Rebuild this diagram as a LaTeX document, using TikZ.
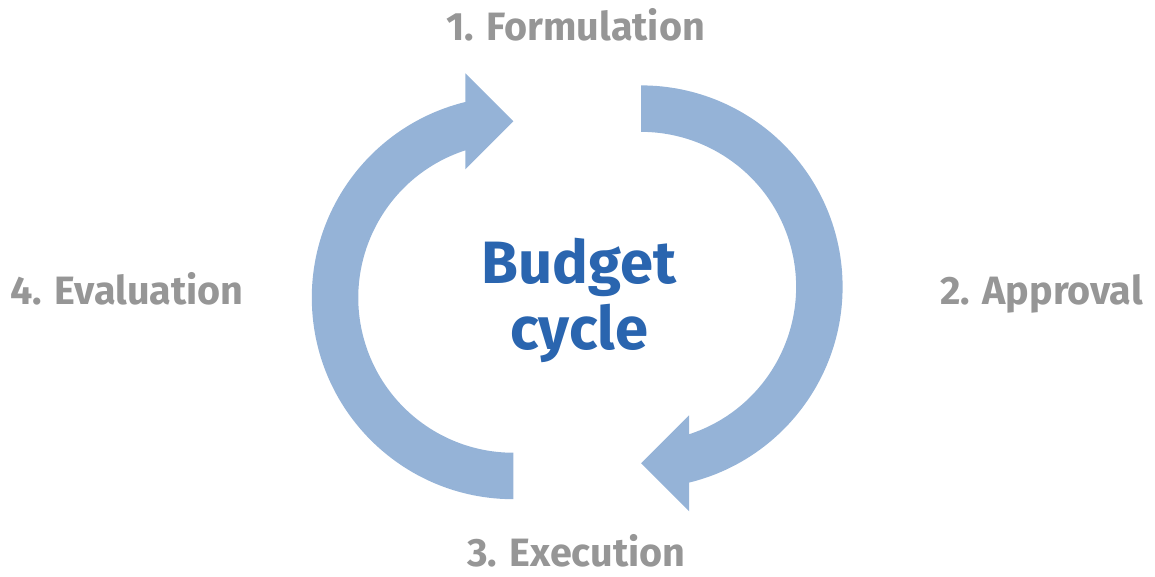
\documentclass[tikz,border=0pt]{standalone}
\usepackage{fontspec}
\setmainfont{Fira Sans}
\definecolor{arrowblue}{RGB}{149,179,215}
\definecolor{cycleblue}{RGB}{42,101,175}
\definecolor{stepgray}{RGB}{150,150,150}

\begin{document}
\begin{tikzpicture}[stepname/.style={text=stepgray,inner sep=0pt,font=\fontsize{22.5}{27}\selectfont\bfseries},
        title/.style={text=cycleblue,inner sep=0pt,align=center,font=\fontsize{34}{38}\selectfont\bfseries}]
    \useasboundingbox (-11.544,-5.674) rectangle (11.556,5.846);
    % two half-ring arrows, the second one turned round the middle
    \foreach \r in {0,180}
        \fill[arrowblue,rotate=\r] (-1.278,-4.138) arc[start angle=270,end angle=103.78,radius=4.03]
            -- (-2.238,4.38) -- (-1.278,3.42) -- (-2.238,2.46)
            -- (-2.238,2.839) arc[start angle=108.04,end angle=270,radius=3.1] -- cycle;
    \node (title) at (0.04,-1.154) [title,anchor=base] {Budget\\cycle};
    \node (form) at (-0.03,5.032) [stepname,anchor=base] {1. Formulation};
    \node (appr) at (11.322,-0.238) [stepname,anchor=base east] {2. Approval};
    \node (exec) at (-0.02,-5.49) [stepname,anchor=base] {3. Execution};
    \node (eval) at (-11.344,-0.254) [stepname,anchor=base west] {4. Evaluation};
\end{tikzpicture}
\end{document}
